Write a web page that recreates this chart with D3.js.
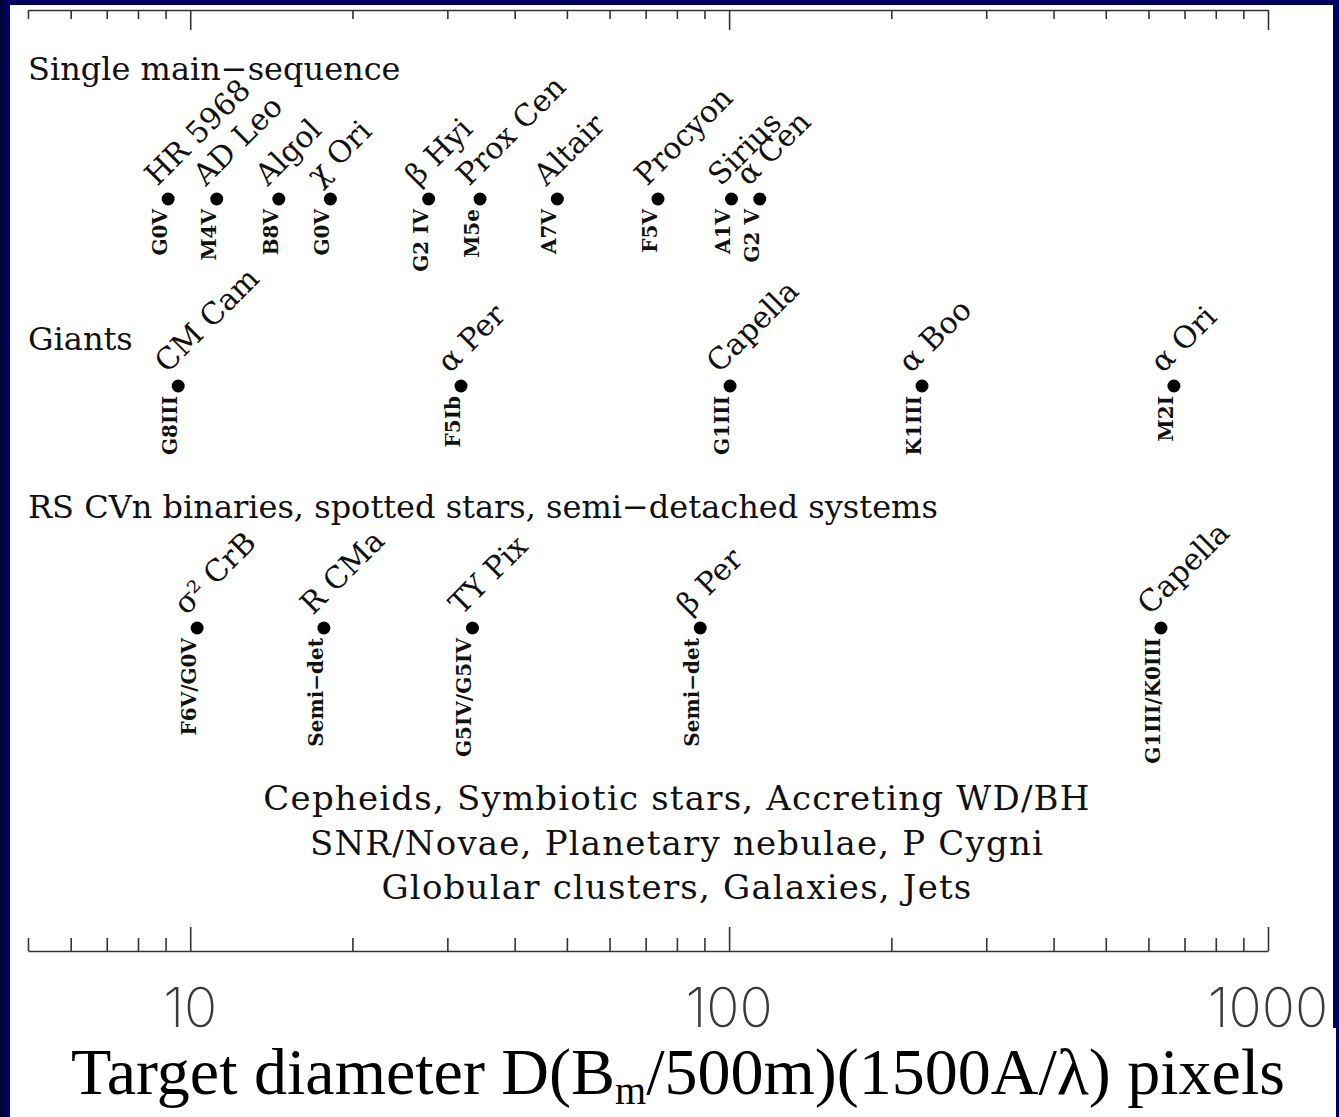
<!DOCTYPE html>
<html>
<head>
<meta charset="utf-8">
<script src="https://cdn.jsdelivr.net/npm/d3@7"></script>
<style>
  body { margin: 0; background: #000060; }
  svg { display: block; }
  .serif { font-family: "DejaVu Serif", serif; fill: #111; }
  .type { font-family: "DejaVu Serif", serif; font-weight: bold; fill: #111; }
  .axis path, .axis line { stroke: #333; stroke-width: 1.6; }
  .ticklabel { font-family: Inter, Lato, "Liberation Sans", sans-serif; font-weight: 200; fill: #3a3a3a; }
  .title { font-family: "Liberation Serif", "Times New Roman", serif; fill: #000; }
</style>
</head>
<body>
<svg width="1339" height="1117"></svg>
<script>
// Chart data
const GROUPS = [
  "Single main\u2212sequence",
  "Giants",
  "RS CVn binaries, spotted stars, semi\u2212detached systems"
];
const mainSeqNames = ["HR 5968", "AD Leo", "Algol", "\u03c7 Ori", "\u03b2 Hyi", "Prox Cen", "Altair", "Procyon", "Sirius", "\u03b1 Cen"];
const mainSeqTypes = ["G0V", "M4V", "B8V", "G0V", "G2 IV", "M5e", "A7V", "F5V", "A1V", "G2 V"];
const mainSeqDiam  = [9.1, 11.2, 14.6, 18.2, 27.7, 34.5, 48.0, 73.8, 101, 114];

const giantNames = ["CM Cam", "\u03b1 Per", "Capella", "\u03b1 Boo", "\u03b1 Ori"];
const giantTypes = ["G8III", "F5Ib", "G1III", "K1III", "M2I"];
const giantDiam  = [9.5, 31.8, 100.4, 228, 669];

const binaryNames = ["\u03c3\u00b2 CrB", "R CMa", "TY Pix", "\u03b2 Per", "Capella"];
const binaryTypes = ["F6V/G0V", "Semi\u2212det", "G5IV/G5IV", "Semi\u2212det", "G1III/K0III"];
const binaryDiam  = [10.3, 17.7, 33.4, 88.4, 633];

const NOTES = [
  "Cepheids, Symbiotic stars, Accreting WD/BH",
  "SNR/Novae, Planetary nebulae, P Cygni",
  "Globular clusters, Galaxies, Jets"
];
const majorTicks = [10, 100, 1000];
const minorTicks = [5, 6, 7, 8, 9, 20, 30, 40, 50, 60, 70, 80, 90, 200, 300, 400, 500, 600, 700, 800, 900];

const
  W = 1339,
  H = 1117,
  svg = d3.select("svg");

// Slide backdrop: navy frame round a white panel
const grad = svg.append("defs").append("linearGradient")
  .attr("id", "edge").attr("x1", 0).attr("x2", 1);
grad.append("stop").attr("offset", 0).attr("stop-color", "#00002c");
grad.append("stop").attr("offset", 1).attr("stop-color", "#00007a");
svg.append("rect").attr("width", W).attr("height", H).attr("fill", "#000060");
svg.append("rect").attr("width", 10).attr("height", H).attr("fill", "url(#edge)");
svg.append("rect").attr("x", 10).attr("y", 5).attr("width", 1323).attr("height", H - 5).attr("fill", "#fff");
svg.append("rect").attr("x", 1333).attr("y", 1028).attr("width", 3).attr("height", H - 1028).attr("fill", "#fff");

// Scales
const x = d3.scaleLog().domain([5, 1000]).range([28, 1268]);
const rowY = d3.scaleOrdinal().domain(GROUPS).range([199, 386, 628]);
const headY = d3.scaleOrdinal().domain(GROUPS).range([80, 350, 518]);
const noteY = d3.scalePoint().domain(NOTES).range([810, 899]);

const stars = [
  ...mainSeqNames.map((n, i) => ({group: GROUPS[0], name: n, type: mainSeqTypes[i], diam: mainSeqDiam[i]})),
  ...giantNames.map((n, i) => ({group: GROUPS[1], name: n, type: giantTypes[i], diam: giantDiam[i]})),
  ...binaryNames.map((n, i) => ({group: GROUPS[2], name: n, type: binaryTypes[i], diam: binaryDiam[i]}))
];

// Axes: top one with ticks hanging down, bottom one with ticks standing up
function drawAxis(y, major, minor, make) {
  svg.append("g").attr("class", "axis").attr("transform", `translate(0,${y})`)
    .call(make(x).tickValues(minorTicks).tickSize(minor).tickSizeOuter(0).tickFormat(""));
  svg.append("g").attr("class", "axis").attr("transform", `translate(0,${y})`)
    .call(make(x).tickValues(majorTicks).tickSize(major).tickSizeOuter(0).tickFormat(""))
    .select(".domain").remove();
}
drawAxis(10, 20, 9, d3.axisBottom);
drawAxis(951, 24, 13, d3.axisTop);

svg.selectAll(".ticklabel")
  .data(majorTicks).join("text")
    .attr("class", "ticklabel")
    .attr("x", d => x(d))
    .attr("y", 1027)
    .attr("text-anchor", "middle")
    .style("font-size", "55px")
    .text(d => d);

// Group headings
svg.selectAll(".head")
  .data(GROUPS).join("text")
    .attr("class", "head serif")
    .attr("x", 28)
    .attr("y", d => headY(d))
    .style("font-size", "32px")
    .text(d => d);

// Stars
svg.selectAll(".dot")
  .data(stars).join("circle")
    .attr("class", "dot")
    .attr("cx", d => x(d.diam))
    .attr("cy", d => rowY(d.group))
    .attr("r", 6.5)
    .attr("fill", "#000");

svg.selectAll(".name")
  .data(stars).join("text")
    .attr("class", "name serif")
    .attr("transform", d => `translate(${x(d.diam) - 11},${rowY(d.group) - 12}) rotate(-45)`)
    .style("font-size", "30px")
    .text(d => d.name);

svg.selectAll(".type")
  .data(stars).join("text")
    .attr("class", "type")
    .attr("transform", d => `translate(${x(d.diam) - 1},${rowY(d.group) + 10}) rotate(-90)`)
    .attr("text-anchor", "end")
    .style("font-size", "20px")
    .text(d => d.type);

// Other classes of targets
svg.selectAll(".note")
  .data(NOTES).join("text")
    .attr("class", "note serif")
    .attr("x", 677)
    .attr("y", d => noteY(d))
    .attr("text-anchor", "middle")
    .style("font-size", "34px")
    .style("letter-spacing", "1.2px")
    .text(d => d);

// Axis title
const title = svg.append("text")
  .attr("class", "title")
  .attr("x", 678)
  .attr("y", 1094)
  .attr("text-anchor", "middle")
  .style("font-size", "66px");
title.append("tspan").text("Target diameter D(B");
title.append("tspan").attr("dy", 10).style("font-size", "40px").text("m");
title.append("tspan").attr("dy", -10).text("/500m)(1500A/\u03bb) pixels");
</script>
</body>
</html>
